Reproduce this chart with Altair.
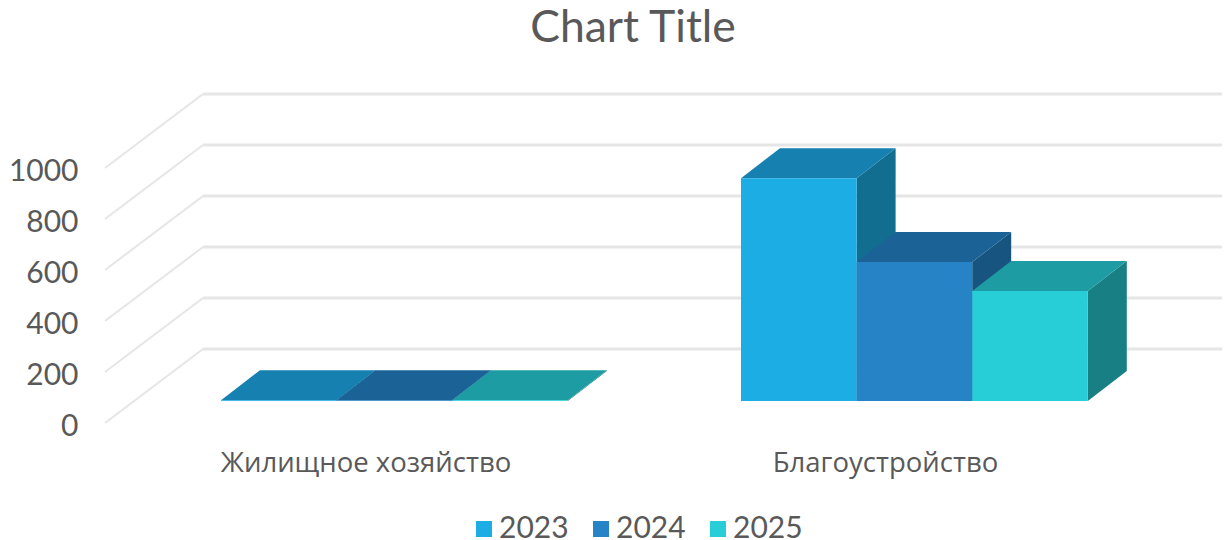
import altair as alt
import pandas as pd

# ---- chart values ----
categories = ["Жилищное хозяйство", "Благоустройство"]
years = ["2023", "2024", "2025"]
values_2023 = [3, 874]
values_2024 = [3, 545]
values_2025 = [3, 431]
y_ticks = [0, 200, 400, 600, 800, 1000]

front_colors = ["#1CADE4", "#2683C6", "#27CED7"]
top_colors = ["#1681B0", "#1B6396", "#1D9CA3"]
side_colors = ["#126E91", "#175580", "#188084"]
grid_color = "#E6E6E6"
text_color = "#595959"

# ---- oblique projection settings (screen-like x units, value-like y units) ----
PX_PER_UNIT = 0.255
group_left = [221, 741]
bar_w = 115.6
depth_x, depth_y = 39, 30 / PX_PER_UNIT
base_lift = 22 / PX_PER_UNIT
label_x = [366, 885.5]
label_y = -41 / PX_PER_UNIT
wall_x0, wall_x1, wall_x2 = 105, 203, 1222
wall_lift = 74 / PX_PER_UNIT

series = [values_2023, values_2024, values_2025]

front, top, side = [], [], []
for g, left in enumerate(group_left):
    for s, year in enumerate(years):
        v = series[s][g]
        x0 = left + s * bar_w
        x1 = x0 + bar_w
        b = base_lift
        t = base_lift + v
        key = f"{g}-{s}"
        front.append({"x": x0, "x2": x1, "y": b, "y2": t, "year": year})
        top.append({"k": key, "y": t, "x": x0, "x2": x1, "fill": top_colors[s]})
        top.append({"k": key, "y": t + depth_y, "x": x0 + depth_x, "x2": x1 + depth_x, "fill": top_colors[s]})
        side.append({"k": key, "x": x1, "y": b, "y2": t, "fill": side_colors[s]})
        side.append({"k": key, "x": x1 + depth_x, "y": b + depth_y, "y2": t + depth_y, "fill": side_colors[s]})

floor_lines, wall_lines = [], []
for v in y_ticks:
    floor_lines += [{"v": v, "i": 0, "x": wall_x0, "y": v}, {"v": v, "i": 1, "x": wall_x1, "y": v + wall_lift}]
    wall_lines += [{"v": v, "i": 0, "x": wall_x1, "y": v + wall_lift}, {"v": v, "i": 1, "x": wall_x2, "y": v + wall_lift}]

labels = pd.DataFrame({"x": label_x, "y": [label_y] * 2, "t": categories})

x_scale = alt.Scale(domain=[90, 1222], nice=False, zero=False)
y_scale = alt.Scale(domain=[(423 - 500) / PX_PER_UNIT, (423 - 70) / PX_PER_UNIT], nice=False, zero=False)
X = alt.X("x:Q", scale=x_scale, axis=None)
Y = alt.Y(
    "y:Q",
    scale=y_scale,
    axis=alt.Axis(
        values=y_ticks, title=None, domain=False, ticks=False, grid=False, format="d",
        labelPadding=12, labelFont="Lato", labelFontSize=30, labelColor=text_color,
        labelFlush=False, labelOverlap=False, labelOffset=3,
    ),
)

floor = alt.Chart(pd.DataFrame(floor_lines)).mark_line(color=grid_color, strokeWidth=2).encode(
    x=X, y=Y, detail="v:N", order="i:Q"
)
wall = alt.Chart(pd.DataFrame(wall_lines)).mark_line(color=grid_color, strokeWidth=3).encode(
    x=X, y=Y, detail="v:N", order="i:Q"
)
sides = alt.Chart(pd.DataFrame(side)).mark_area(orient="vertical").encode(
    x=X, y=Y, y2="y2:Q", detail="k:N", fill=alt.Fill("fill:N", scale=None)
)
tops = alt.Chart(pd.DataFrame(top)).mark_area(orient="horizontal").encode(
    y=Y, x=X, x2="x2:Q", detail="k:N", fill=alt.Fill("fill:N", scale=None)
)
fronts = alt.Chart(pd.DataFrame(front)).mark_rect().encode(
    x=X, x2="x2:Q", y=Y, y2="y2:Q",
    color=alt.Color(
        "year:N",
        scale=alt.Scale(domain=years, range=front_colors),
        legend=alt.Legend(
            title=None, orient="none", direction="horizontal", legendX=379, legendY=444,
            symbolType="square", symbolSize=256, symbolStrokeWidth=0, symbolOpacity=1,
            labelFont="Lato", labelFontSize=30, labelColor=text_color, labelOffset=0,
            columnPadding=17, padding=0, labelLimit=200,
        ),
    ),
)
cat_text = alt.Chart(labels).mark_text(
    font="Open Sans", fontSize=27.5, color=text_color, align="center", baseline="middle"
).encode(x=X, y=alt.Y("y:Q", scale=y_scale), text="t:N")

chart = (
    alt.layer(floor, wall, sides, tops, fronts, cat_text)
    .properties(
        width=1132,
        height=430,
        padding={"left": 82, "top": 62, "right": 0, "bottom": 40},
        autosize=alt.AutoSizeParams(type="none"),
        background="white",
        title=alt.TitleParams(
            "Chart Title", font="Lato", fontSize=44.5, fontWeight="normal", color=text_color,
            anchor="middle", dx=-23, offset=19,
        ),
    )
    .configure_view(stroke=None)
)

chart.save("out.html", embed_options={"renderer": "svg", "actions": False})
